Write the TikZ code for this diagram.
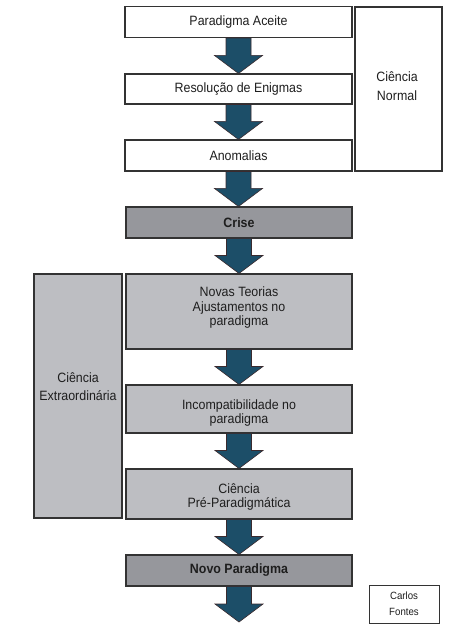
\documentclass[tikz,border=0pt]{standalone}
\usepackage{fontspec}
\setmainfont{Liberation Sans}[FakeStretch=0.92]
\usetikzlibrary{calc}
\definecolor{arrowfill}{HTML}{1C4E68}
\definecolor{arrowline}{HTML}{3A2A2E}
\definecolor{darkbox}{HTML}{96979C}
\definecolor{lightbox}{HTML}{BDBEC2}
\definecolor{boxline}{HTML}{333333}
\definecolor{txt}{HTML}{1E1E1E}
\tikzset{
  box/.style={draw=boxline, line width=1.1pt, rectangle, align=center, text=txt,
    font=\fontsize{13.5}{14.5}\selectfont, inner sep=0pt},
  whitebox/.style={box, fill=white},
  graybox/.style={box, fill=lightbox},
  darkgraybox/.style={box, fill=darkbox, font=\fontsize{13.5}{14.5}\selectfont\bfseries},
  boxtext/.style={text=txt, align=center, font=\fontsize{13.5}{14.5}\selectfont, inner sep=0pt},
  bigarrow/.style={fill=arrowfill, draw=arrowline, line width=0.6pt},
}
\newcommand{\fatarrow}[2]{%
  \path[bigarrow] let \p1=(#1), \p2=(#2) in
    (\x1-12.5pt,\y1) -- (\x1+12.5pt,\y1) -- (\x1+12.5pt,\y2+18pt) -- (\x1+24pt,\y2+18pt)
    -- (\x1,\y2) -- (\x1-24pt,\y2+18pt) -- (\x1-12.5pt,\y2+18pt) -- cycle;}
\begin{document}
\begin{tikzpicture}[x=1pt,y=-1pt]
\useasboundingbox (0,0) rectangle (450,628);
\fill[white] (0,0) rectangle (450,628);
% main column
\node[whitebox, minimum width=227pt, minimum height=31pt] (pa) at (238.5,22) {Paradigma Aceite};
\node[whitebox, minimum width=227pt, minimum height=30pt] (re) at (238.5,89) {Resolução de Enigmas};
\node[whitebox, minimum width=227pt, minimum height=31pt] (an) at (238.5,155.5) {Anomalias};
\node[darkgraybox, minimum width=226pt, minimum height=31pt] (cr) at (239,222.5) {Crise};
\node[graybox, minimum width=226pt, minimum height=75pt] (nt) at (239,311.5) {};
\node[boxtext] (ntt) at (239,308) {Novas Teorias\\Ajustamentos no\\paradigma};
\node[graybox, minimum width=226pt, minimum height=48pt] (inc) at (239,409) {};
\node[boxtext] (inct) at (239,413) {Incompatibilidade no\\paradigma};
\node[graybox, minimum width=226pt, minimum height=50pt] (cpp) at (239,494) {};
\node[boxtext] (cppt) at (239,497) {Ciência\\Pré-Paradigmática};
\node[darkgraybox, minimum width=226pt, minimum height=31pt] (np) at (239,570.5) {Novo Paradigma};
\coordinate (end) at (239,622);
% side boxes
\node[whitebox, minimum width=87pt, minimum height=164pt] (cn) at (398.5,89) {};
\node[boxtext, font=\fontsize{13.5}{19}\selectfont] (cnt) at (397,86) {Ciência\\Normal};
\node[graybox, minimum width=88pt, minimum height=244pt] (ce) at (78,396) {};
\node[boxtext, font=\fontsize{13.5}{18}\selectfont] (cet) at (78,387) {Ciência\\Extraordinária};
\node[whitebox, line width=0.9pt, minimum width=70pt, minimum height=38pt, font=\fontsize{10.5}{16}\selectfont] (cf) at (404,604) {Carlos\\Fontes};
% arrows
\fatarrow{pa.south}{re.north}
\fatarrow{re.south}{an.north}
\fatarrow{an.south}{cr.north}
\fatarrow{cr.south}{nt.north}
\fatarrow{nt.south}{inc.north}
\fatarrow{inc.south}{cpp.north}
\fatarrow{cpp.south}{np.north}
\fatarrow{np.south}{end}
\end{tikzpicture}
\end{document}
